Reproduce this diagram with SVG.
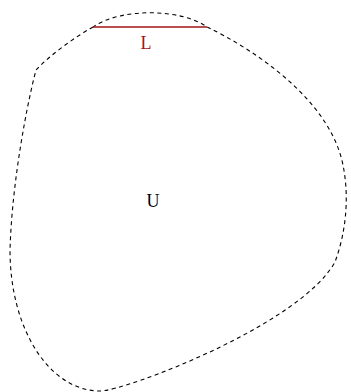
<svg xmlns="http://www.w3.org/2000/svg" width="351" height="392" viewBox="0 0 351 392">
<style>
.region{fill:none;stroke:#000;stroke-width:1.1;stroke-dasharray:4,3.5}
.lab{font-family:"Liberation Serif","DejaVu Serif",serif;font-size:18px;text-anchor:middle}
</style>
<rect width="351" height="392" fill="#fff"/>
<g id="U">
<path class="region" d="M93,27 C75,37 50,55 36,70 C28,100 12,180 10,250 C10,330 50,391 100,391 C125,391 300,325 335,262 C345,235 350,200 343,165 C330,100 255,50 207,27 C180,8 120,8 93,27 Z"/>
<text class="lab" x="153" y="207" fill="#000">U</text>
</g>
<g id="L">
<line x1="93" y1="27" x2="207" y2="27" stroke="#a31515" stroke-width="1.3"/>
<text class="lab" x="146" y="49" fill="#a31515">L</text>
</g>
</svg>
